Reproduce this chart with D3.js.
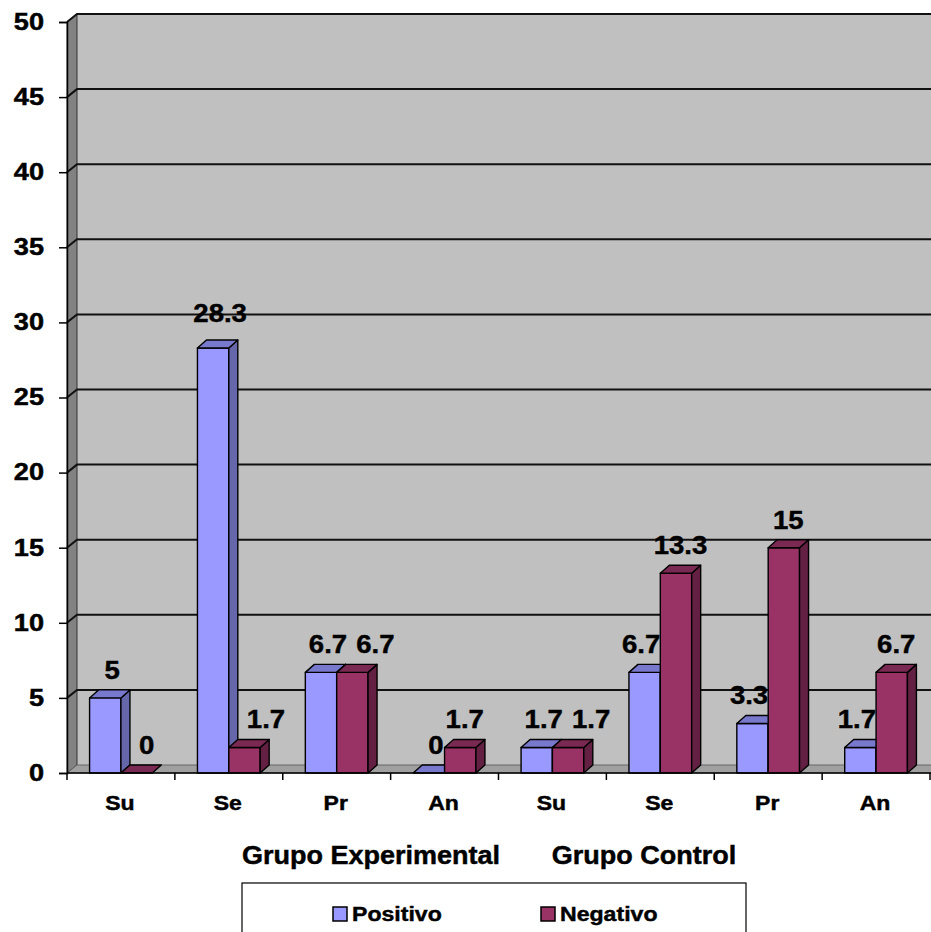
<!DOCTYPE html>
<html>
<head>
<meta charset="utf-8">
<script src="https://cdn.jsdelivr.net/npm/d3@7"></script>
<style>
  body { margin: 0; background: #fff; }
  text { font-family: "Liberation Sans", Arial, sans-serif; font-weight: bold; fill: #000; stroke: #000; stroke-width: 0.45px; }
</style>
</head>
<body>
<svg id="chart" width="931" height="932"></svg>
<script>
// ---- data ----
const categories = ["Su", "Se", "Pr", "An", "Su", "Se", "Pr", "An"];
const groupTitles = ["Grupo Experimental", "Grupo Control"];
const seriesNames = ["Positivo", "Negativo"];
const positivo = [5, 28.3, 6.7, 0, 1.7, 6.7, 3.3, 1.7];
const negativo = [0, 1.7, 6.7, 1.7, 1.7, 13.3, 15, 6.7];
const yTicks = [0, 5, 10, 15, 20, 25, 30, 35, 40, 45, 50];

// ---- look ----
const colors = {
  Positivo: { front: "#9999FF", top: "#7878CC", side: "#6666AA" },
  Negativo: { front: "#993366", top: "#7A2952", side: "#642043" }
};
const W = 931, H = 932;
const plot = { left: 67, right: 930, top: 22, bottom: 773 };
const wallD = { dx: 10, dy: 8 };   // depth of walls/floor
const barD = { dx: 9, dy: 8 };     // depth of the columns

const svg = d3.select("#chart");
svg.append("rect").attr("width", W).attr("height", H).attr("fill", "#fff");

const y = d3.scaleLinear().domain([0, 50]).range([plot.bottom, plot.top]);
const x0 = d3.scaleBand().domain(d3.range(categories.length)).range([plot.left, plot.right]).padding(0);
const x1 = d3.scaleBand().domain(seriesNames).range([0, x0.bandwidth()]).paddingInner(0).paddingOuter(0.72);

// horizontal stretch applied to the bold labels
function stretch(sel, s) {
  sel.each(function () {
    const t = d3.select(this);
    const tx = +t.attr("x") || 0;
    t.attr("x", 0).attr("transform", `translate(${tx},0) scale(${s},1)`);
  });
}

// ---- walls and floor ----
const g = svg.append("g");
g.append("rect")
  .attr("x", plot.left + wallD.dx).attr("y", plot.top - wallD.dy)
  .attr("width", W + 20 - plot.left).attr("height", plot.bottom - plot.top)
  .attr("fill", "#C0C0C0");
g.append("polygon")
  .attr("points", [[plot.left, plot.top], [plot.left + wallD.dx, plot.top - wallD.dy],
                   [plot.left + wallD.dx, plot.bottom - wallD.dy], [plot.left, plot.bottom]].join(" "))
  .attr("fill", "#828282").attr("stroke", "#333").attr("stroke-width", 1);
g.append("polygon")
  .attr("points", [[plot.left, plot.bottom], [plot.left + wallD.dx, plot.bottom - wallD.dy],
                   [W + 20, plot.bottom - wallD.dy], [W + 10, plot.bottom]].join(" "))
  .attr("fill", "#A0A0A0").attr("stroke", "#666").attr("stroke-width", 1);

// gridlines on the back wall and the side wall
const grid = g.append("g").attr("stroke", "#111").attr("stroke-width", 2).attr("fill", "none");
yTicks.filter(t => t > 0).forEach(t => {
  const yy = y(t);
  grid.append("path")
    .attr("d", `M${plot.left},${yy}L${plot.left + wallD.dx},${yy - wallD.dy}L${W + 20},${yy - wallD.dy}`);
});

// ---- columns ----
const bars = svg.append("g").attr("stroke", "#000").attr("stroke-width", 1.4).attr("stroke-linejoin", "round");
const seriesData = { Positivo: positivo, Negativo: negativo };

function drawBar(xl, w, v, c) {
  const yt = y(v), yb = y(0);
  const { dx, dy } = barD;
  if (v > 0) {
    bars.append("rect").attr("x", xl).attr("y", yt).attr("width", w).attr("height", yb - yt).attr("fill", c.front);
    bars.append("polygon")
      .attr("points", [[xl + w, yt], [xl + w + dx, yt - dy], [xl + w + dx, yb - dy], [xl + w, yb]].join(" "))
      .attr("fill", c.side);
  }
  bars.append("polygon")
    .attr("points", [[xl, yt], [xl + dx, yt - dy], [xl + w + dx, yt - dy], [xl + w, yt]].join(" "))
    .attr("fill", c.top);
}

categories.forEach((cat, i) => {
  seriesNames.forEach(s => {
    drawBar(x0(i) + x1(s), x1.bandwidth(), seriesData[s][i], colors[s]);
  });
});

// ---- axes ----
const yAxis = svg.append("g").attr("transform", `translate(${plot.left},0)`)
  .call(d3.axisLeft(y).tickValues(yTicks).tickSize(8).tickPadding(15).tickFormat(d3.format("d")));
yAxis.select(".domain").attr("stroke", "#000").attr("stroke-width", 1.5);
yAxis.selectAll(".tick line").attr("stroke", "#000").attr("stroke-width", 1.5);
yAxis.selectAll("text").attr("font-size", 23).attr("font-family", null).attr("fill", "#000");
stretch(yAxis.selectAll("text"), 1.18);

const xAxis = svg.append("g");
xAxis.append("line").attr("x1", plot.left).attr("x2", plot.right + 5).attr("y1", plot.bottom).attr("y2", plot.bottom)
  .attr("stroke", "#000").attr("stroke-width", 1.5);
d3.range(categories.length + 1).forEach(i => {
  const xx = i < categories.length ? x0(i) : plot.right;
  xAxis.append("line").attr("x1", xx).attr("x2", xx).attr("y1", plot.bottom).attr("y2", plot.bottom + 7)
    .attr("stroke", "#000").attr("stroke-width", 1.5);
});
const catLabels = xAxis.selectAll("text.cat").data(categories).join("text")
  .attr("class", "cat")
  .attr("x", (d, i) => x0(i) + x0.bandwidth() / 2 - 1)
  .attr("y", 810)
  .attr("text-anchor", "middle")
  .attr("font-size", 20)
  .text(d => d);
stretch(catLabels, 1.15);

// ---- data labels ----
const labelG = svg.append("g");
const LS = 1.06, GAP = 9;
function addLabel(v, cx, base) {
  const t = labelG.append("text").attr("font-size", 26).attr("text-anchor", "middle").attr("y", base).text(v);
  const w = t.node().getComputedTextLength() * LS;
  return { t, w, cx, base };
}
categories.forEach((cat, i) => {
  const w = x1.bandwidth();
  const pl = x0(i) + x1("Positivo"), nl = x0(i) + x1("Negativo");
  const pv = positivo[i], nv = negativo[i];

  // positive label: centred on the column top, kept clear of a taller neighbour
  const p = addLabel(pv, pl + w / 2 + 7, y(pv) - 19 - (pv > 20 ? 7 : 0));
  if (y(nv) < p.base) p.cx = Math.min(p.cx, nl - p.w / 2);

  // negative label: pushed right of anything it would collide with
  const n = addLabel(nv, nl + w / 2 + 4.5, y(nv) - 19);
  let minLeft = -Infinity;
  if (y(pv) - barD.dy < n.base) minLeft = Math.max(minLeft, pl + w + barD.dx + GAP);
  if (Math.abs(p.base - n.base) < 22) minLeft = Math.max(minLeft, p.cx + p.w / 2 + GAP);
  if (n.cx - n.w / 2 < minLeft) n.cx = minLeft + n.w / 2;

  [p, n].forEach(l => l.t.attr("x", l.cx).attr("y", l.base));
});
stretch(labelG.selectAll("text"), LS);

// ---- group titles ----
const titles = svg.append("g").selectAll("text").data(groupTitles).join("text")
  .attr("x", (d, i) => [371, 644][i])
  .attr("y", 864)
  .attr("text-anchor", "middle")
  .attr("font-size", 25)
  .text(d => d);
stretch(titles, 1.08);

// ---- legend ----
const legend = svg.append("g");
legend.append("rect").attr("x", 242).attr("y", 883).attr("width", 504).attr("height", 70)
  .attr("fill", "#fff").attr("stroke", "#000").attr("stroke-width", 1.2);
const legendX = [333, 541];
seriesNames.forEach((s, i) => {
  legend.append("rect").attr("x", legendX[i]).attr("y", 907).attr("width", 14).attr("height", 14)
    .attr("fill", colors[s].front).attr("stroke", "#000").attr("stroke-width", 1.5);
  const t = legend.append("text").attr("x", legendX[i] + 19).attr("y", 921).attr("font-size", 21).text(s);
  stretch(t, 1.1);
});
</script>
</body>
</html>
